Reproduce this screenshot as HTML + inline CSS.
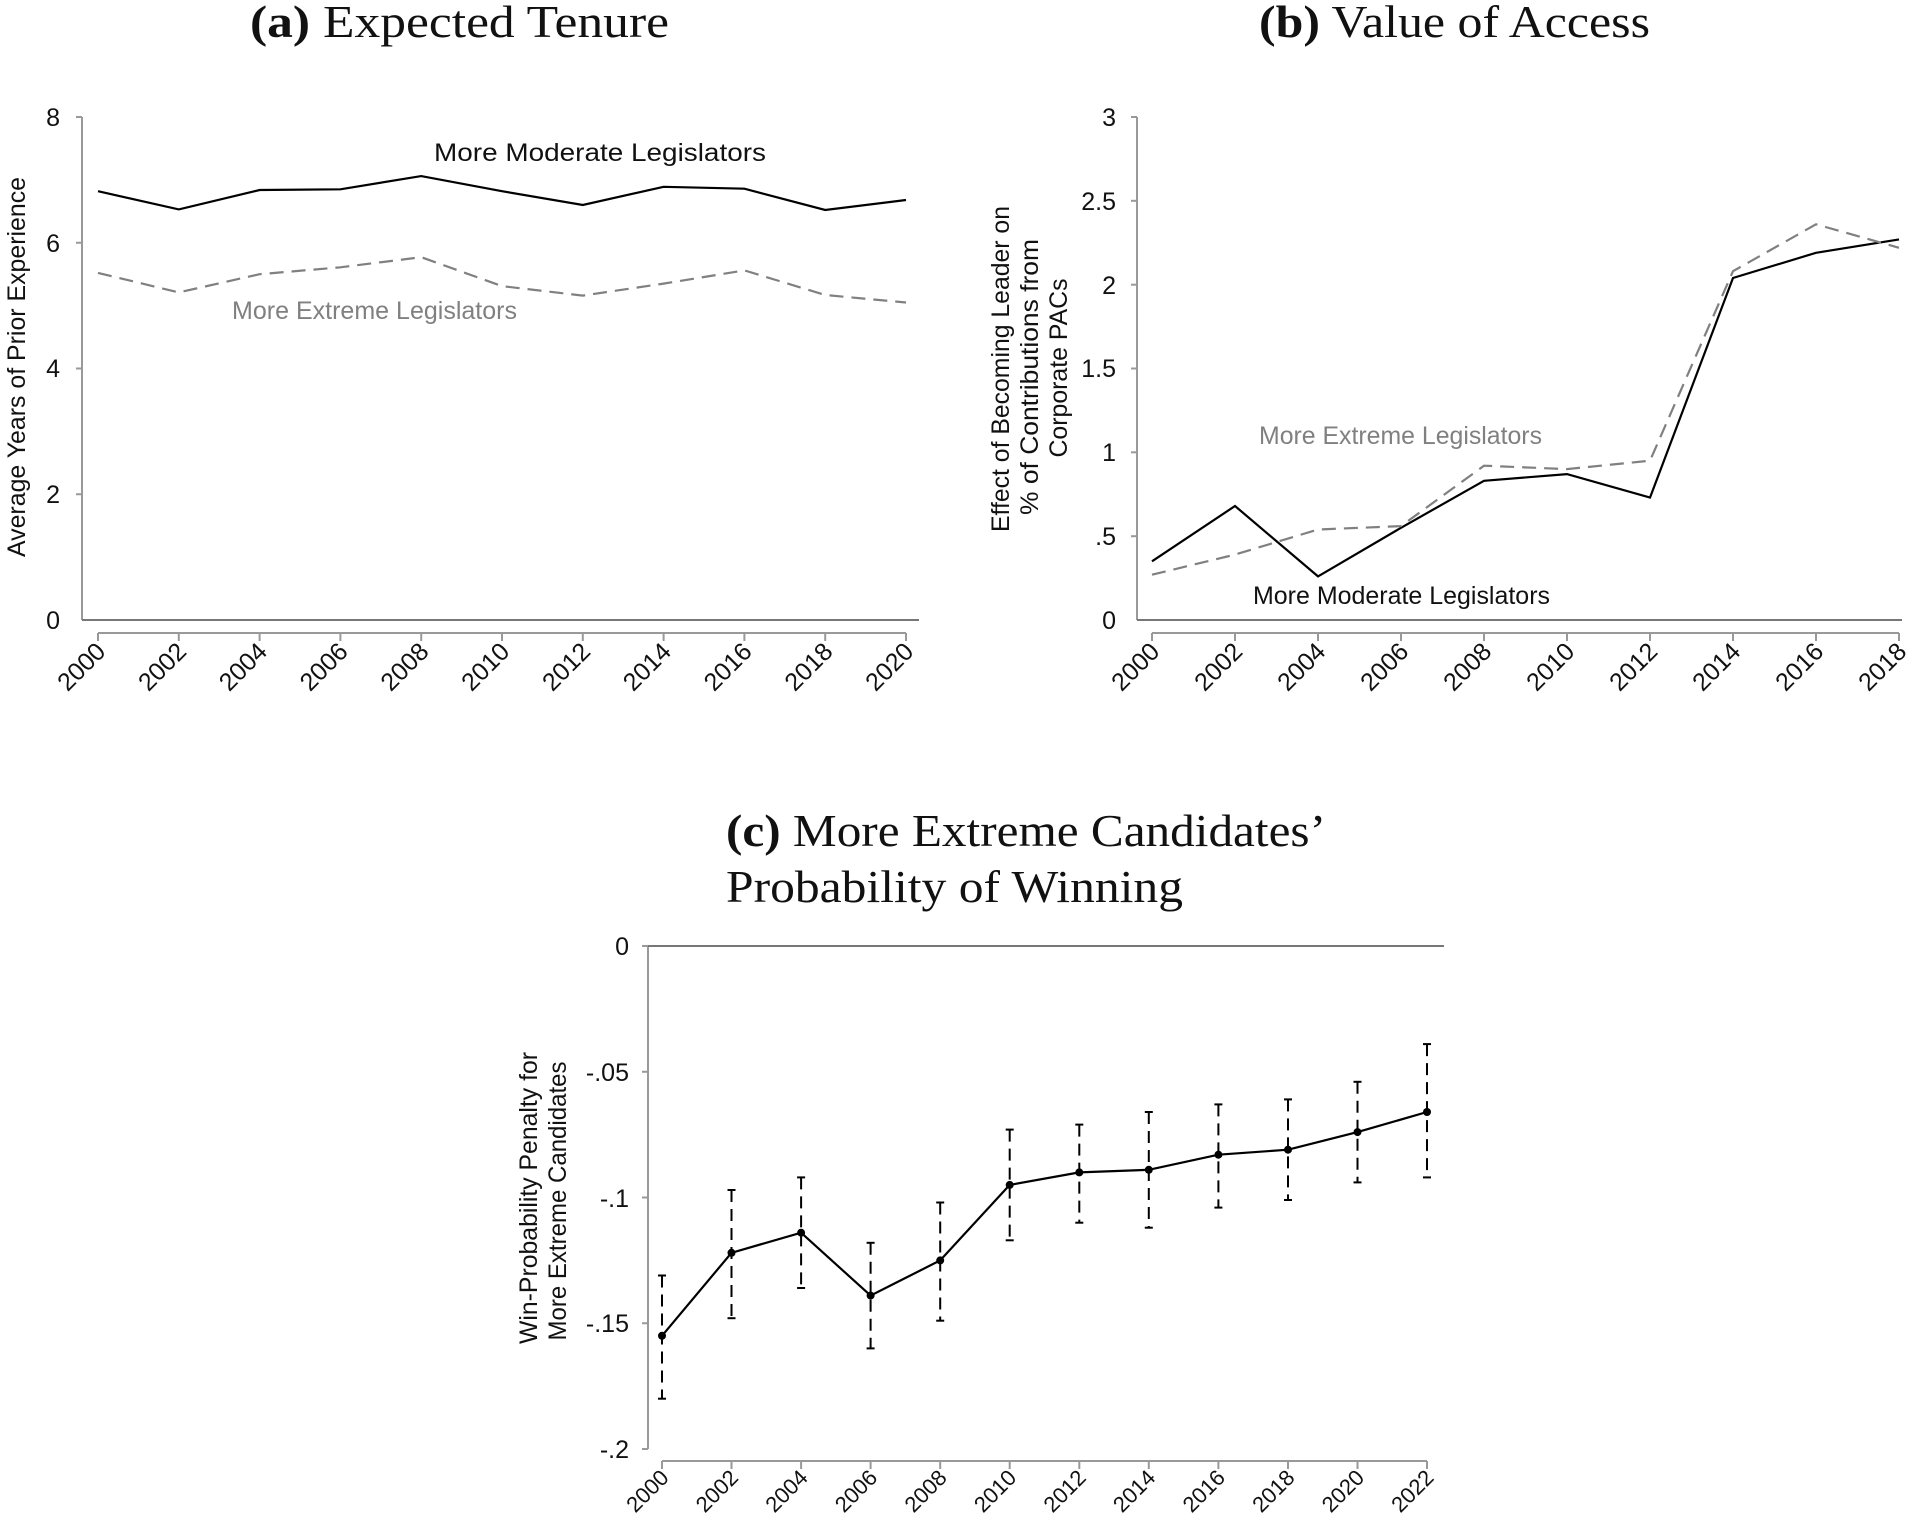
<!DOCTYPE html>
<html><head><meta charset="utf-8"><style>
html,body{margin:0;padding:0;background:#fff;}
svg{display:block;}
.t{font-family:"Liberation Sans",sans-serif;font-size:25px;fill:#111;}
.ti{font-family:"Liberation Serif",serif;font-size:46px;fill:#111;}
.ax{stroke:#999;stroke-width:2;fill:none;}
.base{stroke:#777;stroke-width:2;}
.m{stroke:#000;stroke-width:2.2;fill:none;}
.e{stroke:#808080;stroke-width:2.2;fill:none;stroke-dasharray:14,8;}
</style></head><body>
<svg width="1916" height="1536" viewBox="0 0 1916 1536" xmlns="http://www.w3.org/2000/svg">
<!-- Panel a -->
<text class="ti" x="250" y="37" textLength="419" lengthAdjust="spacingAndGlyphs"><tspan font-weight="bold">(a)</tspan> Expected Tenure</text>
<line class="ax" x1="82" y1="117" x2="82" y2="620"/>
<g class="ax"><line x1="76" y1="117" x2="82" y2="117"/><line x1="76" y1="242.75" x2="82" y2="242.75"/><line x1="76" y1="368.5" x2="82" y2="368.5"/><line x1="76" y1="494.25" x2="82" y2="494.25"/></g>
<line class="base" x1="82" y1="620" x2="919" y2="620"/>
<g class="t" text-anchor="end"><text x="60" y="126">8</text><text x="60" y="252">6</text><text x="60" y="377">4</text><text x="60" y="503">2</text><text x="60" y="629">0</text></g>
<text class="t" transform="translate(25,367) rotate(-90)" text-anchor="middle" textLength="380" lengthAdjust="spacingAndGlyphs">Average Years of Prior Experience</text>
<line class="ax" x1="98" y1="633" x2="906" y2="633"/>
<g class="ax"><line x1="98" y1="633" x2="98" y2="641"/><line x1="178.8" y1="633" x2="178.8" y2="641"/><line x1="259.6" y1="633" x2="259.6" y2="641"/><line x1="340.4" y1="633" x2="340.4" y2="641"/><line x1="421.2" y1="633" x2="421.2" y2="641"/><line x1="502" y1="633" x2="502" y2="641"/><line x1="582.8" y1="633" x2="582.8" y2="641"/><line x1="663.6" y1="633" x2="663.6" y2="641"/><line x1="744.4" y1="633" x2="744.4" y2="641"/><line x1="825.2" y1="633" x2="825.2" y2="641"/><line x1="906" y1="633" x2="906" y2="641"/></g>
<g class="t" text-anchor="end">
<text transform="translate(107,653) rotate(-45)">2000</text><text transform="translate(187.8,653) rotate(-45)">2002</text><text transform="translate(268.6,653) rotate(-45)">2004</text><text transform="translate(349.4,653) rotate(-45)">2006</text><text transform="translate(430.2,653) rotate(-45)">2008</text><text transform="translate(511,653) rotate(-45)">2010</text><text transform="translate(591.8,653) rotate(-45)">2012</text><text transform="translate(672.6,653) rotate(-45)">2014</text><text transform="translate(753.4,653) rotate(-45)">2016</text><text transform="translate(834.2,653) rotate(-45)">2018</text><text transform="translate(915,653) rotate(-45)">2020</text></g>
<polyline class="m" points="98,191.2 178.8,209.4 259.6,190 340.4,189.3 421.2,176.1 502,191.2 582.8,205 663.6,186.8 744.4,188.7 825.2,210 906,200"/>
<polyline class="e" points="98,272.9 178.8,292.4 259.6,274.2 340.4,267.3 421.2,257.2 502,286.1 582.8,295.6 663.6,283.6 744.4,270.4 825.2,295 906,302.5"/>
<text class="t" x="434" y="161" textLength="332" lengthAdjust="spacingAndGlyphs">More Moderate Legislators</text>
<text class="t" x="232" y="319" style="fill:#808080" textLength="285" lengthAdjust="spacingAndGlyphs">More Extreme Legislators</text>

<!-- Panel b -->
<text class="ti" x="1259" y="37" textLength="391" lengthAdjust="spacingAndGlyphs"><tspan font-weight="bold">(b)</tspan> Value of Access</text>
<line class="ax" x1="1137" y1="117" x2="1137" y2="620"/>
<g class="ax"><line x1="1131" y1="117" x2="1137" y2="117"/><line x1="1131" y1="200.8" x2="1137" y2="200.8"/><line x1="1131" y1="284.7" x2="1137" y2="284.7"/><line x1="1131" y1="368.5" x2="1137" y2="368.5"/><line x1="1131" y1="452.3" x2="1137" y2="452.3"/><line x1="1131" y1="536.2" x2="1137" y2="536.2"/></g>
<line class="base" x1="1137" y1="620" x2="1902" y2="620"/>
<g class="t" text-anchor="end"><text x="1116" y="126">3</text><text x="1116" y="210">2.5</text><text x="1116" y="294">2</text><text x="1116" y="377">1.5</text><text x="1116" y="461">1</text><text x="1116" y="545">.5</text><text x="1116" y="629">0</text></g>
<g class="t" text-anchor="middle"><text transform="translate(1009,369) rotate(-90)" textLength="326" lengthAdjust="spacingAndGlyphs">Effect of Becoming Leader on</text><text transform="translate(1038,377) rotate(-90)" textLength="276" lengthAdjust="spacingAndGlyphs">% of Contributions from</text><text transform="translate(1067,368) rotate(-90)" textLength="179" lengthAdjust="spacingAndGlyphs">Corporate PACs</text></g>
<line class="ax" x1="1152" y1="633" x2="1899" y2="633"/>
<g class="ax"><line x1="1152" y1="633" x2="1152" y2="641"/><line x1="1235" y1="633" x2="1235" y2="641"/><line x1="1318" y1="633" x2="1318" y2="641"/><line x1="1401" y1="633" x2="1401" y2="641"/><line x1="1484" y1="633" x2="1484" y2="641"/><line x1="1567" y1="633" x2="1567" y2="641"/><line x1="1650" y1="633" x2="1650" y2="641"/><line x1="1733" y1="633" x2="1733" y2="641"/><line x1="1816" y1="633" x2="1816" y2="641"/><line x1="1899" y1="633" x2="1899" y2="641"/></g>
<g class="t" text-anchor="end">
<text transform="translate(1161,653) rotate(-45)">2000</text><text transform="translate(1244,653) rotate(-45)">2002</text><text transform="translate(1327,653) rotate(-45)">2004</text><text transform="translate(1410,653) rotate(-45)">2006</text><text transform="translate(1493,653) rotate(-45)">2008</text><text transform="translate(1576,653) rotate(-45)">2010</text><text transform="translate(1659,653) rotate(-45)">2012</text><text transform="translate(1742,653) rotate(-45)">2014</text><text transform="translate(1825,653) rotate(-45)">2016</text><text transform="translate(1908,653) rotate(-45)">2018</text></g>
<polyline class="m" points="1152,561.3 1235,506 1318,576.4 1401,527.8 1484,480.8 1567,474.1 1650,497.6 1733,278 1816,252.8 1899,239.4"/>
<polyline class="e" points="1152,574.7 1235,554.6 1318,529.5 1401,526.1 1484,465.7 1567,469.1 1650,460.7 1733,271.2 1816,224.3 1899,247.8"/>
<text class="t" x="1259" y="444" style="fill:#808080" textLength="283" lengthAdjust="spacingAndGlyphs">More Extreme Legislators</text>
<text class="t" x="1253" y="604" textLength="297" lengthAdjust="spacingAndGlyphs">More Moderate Legislators</text>

<!-- Panel c -->
<text class="ti" x="726" y="846" textLength="600" lengthAdjust="spacingAndGlyphs"><tspan font-weight="bold">(c)</tspan> More Extreme Candidates’</text>
<text class="ti" x="726" y="902" textLength="457" lengthAdjust="spacingAndGlyphs">Probability of Winning</text>
<line class="ax" x1="648" y1="946" x2="648" y2="1449"/>
<g class="ax"><line x1="642" y1="946" x2="648" y2="946"/><line x1="642" y1="1071.75" x2="648" y2="1071.75"/><line x1="642" y1="1197.5" x2="648" y2="1197.5"/><line x1="642" y1="1323.25" x2="648" y2="1323.25"/><line x1="642" y1="1449" x2="648" y2="1449"/></g>
<line class="base" x1="648" y1="946" x2="1444" y2="946"/>
<g class="t" text-anchor="end"><text x="629" y="955">0</text><text x="629" y="1081">-.05</text><text x="629" y="1207">-.1</text><text x="629" y="1332">-.15</text><text x="629" y="1458">-.2</text></g>
<g class="t" text-anchor="middle"><text transform="translate(537,1198) rotate(-90)" textLength="292" lengthAdjust="spacingAndGlyphs">Win-Probability Penalty for</text><text transform="translate(566,1201) rotate(-90)" textLength="279" lengthAdjust="spacingAndGlyphs">More Extreme Candidates</text></g>
<line class="ax" x1="662" y1="1461" x2="1427" y2="1461"/>
<g class="ax"><line x1="662" y1="1461" x2="662" y2="1469"/><line x1="731.5" y1="1461" x2="731.5" y2="1469"/><line x1="801.1" y1="1461" x2="801.1" y2="1469"/><line x1="870.6" y1="1461" x2="870.6" y2="1469"/><line x1="940.2" y1="1461" x2="940.2" y2="1469"/><line x1="1009.7" y1="1461" x2="1009.7" y2="1469"/><line x1="1079.3" y1="1461" x2="1079.3" y2="1469"/><line x1="1148.8" y1="1461" x2="1148.8" y2="1469"/><line x1="1218.4" y1="1461" x2="1218.4" y2="1469"/><line x1="1288" y1="1461" x2="1288" y2="1469"/><line x1="1357.5" y1="1461" x2="1357.5" y2="1469"/><line x1="1427" y1="1461" x2="1427" y2="1469"/></g>
<g class="t" text-anchor="end" style="font-size:22px">
<text transform="translate(670,1479) rotate(-45)">2000</text><text transform="translate(739.5,1479) rotate(-45)">2002</text><text transform="translate(809.1,1479) rotate(-45)">2004</text><text transform="translate(878.6,1479) rotate(-45)">2006</text><text transform="translate(948.2,1479) rotate(-45)">2008</text><text transform="translate(1017.7,1479) rotate(-45)">2010</text><text transform="translate(1087.3,1479) rotate(-45)">2012</text><text transform="translate(1156.8,1479) rotate(-45)">2014</text><text transform="translate(1226.4,1479) rotate(-45)">2016</text><text transform="translate(1296,1479) rotate(-45)">2018</text><text transform="translate(1365.5,1479) rotate(-45)">2020</text><text transform="translate(1435,1479) rotate(-45)">2022</text></g>
<g stroke="#000" stroke-width="2" stroke-dasharray="12,7" fill="none">
<line x1="662" y1="1275.5" x2="662" y2="1398.7"/><line x1="731.5" y1="1190" x2="731.5" y2="1318.2"/><line x1="801.1" y1="1177.4" x2="801.1" y2="1288"/><line x1="870.6" y1="1242.8" x2="870.6" y2="1348.4"/><line x1="940.2" y1="1202.5" x2="940.2" y2="1320.7"/><line x1="1009.7" y1="1129.6" x2="1009.7" y2="1240.3"/><line x1="1079.3" y1="1124.6" x2="1079.3" y2="1222.7"/><line x1="1148.8" y1="1112" x2="1148.8" y2="1227.7"/><line x1="1218.4" y1="1104.4" x2="1218.4" y2="1207.6"/><line x1="1288" y1="1099.4" x2="1288" y2="1200"/><line x1="1357.5" y1="1081.8" x2="1357.5" y2="1182.4"/><line x1="1427" y1="1044.1" x2="1427" y2="1177.4"/></g>
<g stroke="#000" stroke-width="2">
<line x1="658" y1="1275.5" x2="666" y2="1275.5"/><line x1="658" y1="1398.7" x2="666" y2="1398.7"/>
<line x1="727.5" y1="1190" x2="735.5" y2="1190"/><line x1="727.5" y1="1318.2" x2="735.5" y2="1318.2"/>
<line x1="797.1" y1="1177.4" x2="805.1" y2="1177.4"/><line x1="797.1" y1="1288" x2="805.1" y2="1288"/>
<line x1="866.6" y1="1242.8" x2="874.6" y2="1242.8"/><line x1="866.6" y1="1348.4" x2="874.6" y2="1348.4"/>
<line x1="936.2" y1="1202.5" x2="944.2" y2="1202.5"/><line x1="936.2" y1="1320.7" x2="944.2" y2="1320.7"/>
<line x1="1005.7" y1="1129.6" x2="1013.7" y2="1129.6"/><line x1="1005.7" y1="1240.3" x2="1013.7" y2="1240.3"/>
<line x1="1075.3" y1="1124.6" x2="1083.3" y2="1124.6"/><line x1="1075.3" y1="1222.7" x2="1083.3" y2="1222.7"/>
<line x1="1144.8" y1="1112" x2="1152.8" y2="1112"/><line x1="1144.8" y1="1227.7" x2="1152.8" y2="1227.7"/>
<line x1="1214.4" y1="1104.4" x2="1222.4" y2="1104.4"/><line x1="1214.4" y1="1207.6" x2="1222.4" y2="1207.6"/>
<line x1="1284" y1="1099.4" x2="1292" y2="1099.4"/><line x1="1284" y1="1200" x2="1292" y2="1200"/>
<line x1="1353.5" y1="1081.8" x2="1361.5" y2="1081.8"/><line x1="1353.5" y1="1182.4" x2="1361.5" y2="1182.4"/>
<line x1="1423" y1="1044.1" x2="1431" y2="1044.1"/><line x1="1423" y1="1177.4" x2="1431" y2="1177.4"/></g>
<polyline class="m" points="662,1335.8 731.5,1252.8 801.1,1232.7 870.6,1295.6 940.2,1260.4 1009.7,1184.9 1079.3,1172.4 1148.8,1169.8 1218.4,1154.7 1288,1149.7 1357.5,1132.1 1427,1112"/>
<g fill="#000"><circle cx="662" cy="1335.8" r="4"/><circle cx="731.5" cy="1252.8" r="4"/><circle cx="801.1" cy="1232.7" r="4"/><circle cx="870.6" cy="1295.6" r="4"/><circle cx="940.2" cy="1260.4" r="4"/><circle cx="1009.7" cy="1184.9" r="4"/><circle cx="1079.3" cy="1172.4" r="4"/><circle cx="1148.8" cy="1169.8" r="4"/><circle cx="1218.4" cy="1154.7" r="4"/><circle cx="1288" cy="1149.7" r="4"/><circle cx="1357.5" cy="1132.1" r="4"/><circle cx="1427" cy="1112" r="4"/></g>
</svg>
</body></html>
